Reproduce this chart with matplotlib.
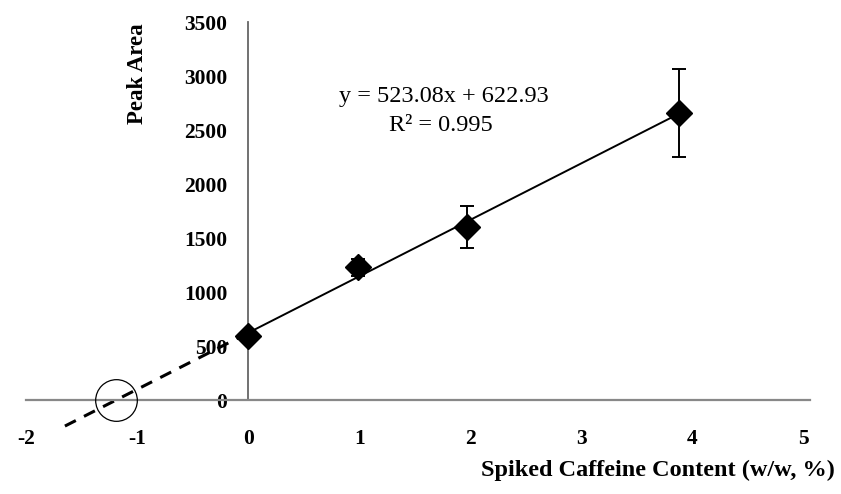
import numpy as np
import matplotlib.pyplot as plt

# spiked caffeine content (w/w, %) vs peak area
content = [0.0, 0.99, 1.97, 3.88]
peak_area = [590, 1230, 1605, 2660]
peak_err = [50, 80, 195, 410]

slope = 523.08
intercept = 622.93
r2 = 0.995

x_ticks = [-2, -1, 0, 1, 2, 3, 4, 5]
y_ticks = [0, 500, 1000, 1500, 2000, 2500, 3000, 3500]

plt.rcParams['font.family'] = ['Liberation Serif', 'DejaVu Serif']
plt.rcParams['axes.unicode_minus'] = False

fig = plt.figure(figsize=(8.41, 4.94), dpi=100)
ax = fig.add_axes([0.031, 0.19, 0.932, 0.765])

ax.set_xlim(-2.0, 5.06)
ax.set_ylim(0, 3500)

# fitted line, solid over the data range
x_fit = np.array([0.0, max(content)])
ax.plot(x_fit, slope * x_fit + intercept, color='black', lw=1.4, zorder=2)

# extrapolation back to the x intercept
x_ext = np.array([-1.65, 0.0])
ax.plot(x_ext, slope * x_ext + intercept, color='black', lw=2.2,
        ls=(0, (4, 3)), clip_on=False, zorder=2)

x0 = -intercept / slope
ax.plot([x0], [0], marker='o', ms=30, mfc='none', mec='black', mew=0.9,
        clip_on=False, zorder=3)

ax.errorbar(content, peak_area, yerr=peak_err, fmt='D', color='black',
            ms=13, capsize=5, elinewidth=1.4, capthick=1.4, zorder=4)

ax.text(1.76, 2810, 'y = 523.08x + 622.93', ha='center', va='center',
        fontsize=17.5)
ax.text(1.74, 2545, 'R² = 0.995', ha='center', va='center', fontsize=17.5)

for s in ['top', 'right']:
    ax.spines[s].set_visible(False)
ax.spines['left'].set_position(('data', 0))
ax.spines['left'].set_color('#666666')
ax.spines['bottom'].set_color('#888888')
ax.spines['left'].set_linewidth(1.3)
ax.spines['bottom'].set_linewidth(1.6)

ax.set_xticks(x_ticks)
ax.set_yticks(y_ticks)
ax.tick_params(axis='x', length=0, pad=21, labelsize=15.5)
ax.tick_params(axis='y', length=0, pad=15, labelsize=15.5)
for lab in ax.get_xticklabels() + ax.get_yticklabels():
    lab.set_fontweight('bold')

fig.text(0.163, 0.85, 'Peak Area', rotation=90, ha='center', va='center',
         fontsize=16.5, fontweight='bold')
fig.text(0.993, 0.048, 'Spiked Caffeine Content (w/w, %)', ha='right',
         va='center', fontsize=17.5, fontweight='bold')

fig.savefig('out.png', dpi=100)
